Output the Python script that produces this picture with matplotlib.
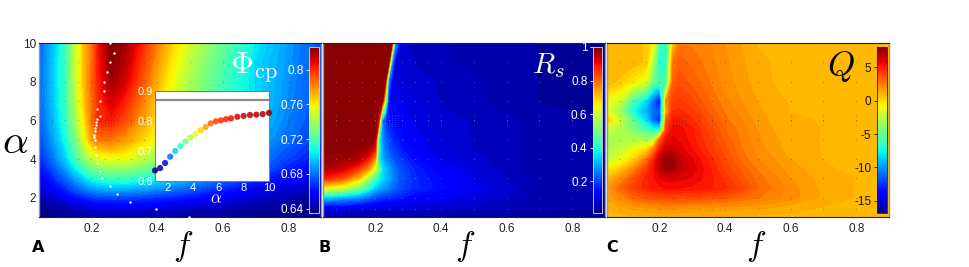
import matplotlib
matplotlib.use('Agg')
import matplotlib.pyplot as plt
from matplotlib.cm import ScalarMappable
from matplotlib.colors import Normalize
import numpy as np

plt.rcParams['font.family'] = ['Liberation Sans', 'DejaVu Sans']
plt.rcParams['mathtext.fontset'] = 'cm'

W, H = 969, 267

f_ticks = [0.2, 0.4, 0.6, 0.8]
alpha_ticks = [2, 4, 6, 8, 10]

# panel A, packing fraction
phi_f = [.04, .08, .12, .15, .18, .20, .22, .26, .30, .36, .42, .50, .60, .70, .80, .90]
phi_alpha = [1, 1.5, 2, 2.5, 3, 3.5, 4, 5, 6, 7, 8, 9, 10]
phi = [
    [.636, .636, .637, .638, .639, .640, .640, .640, .640, .640, .640, .638, .637, .636, .636, .635],
    [.638, .640, .643, .646, .649, .651, .652, .653, .653, .652, .651, .648, .645, .641, .638, .636],
    [.643, .648, .655, .661, .666, .669, .671, .672, .672, .670, .667, .662, .655, .648, .643, .639],
    [.650, .657, .667, .676, .684, .689, .692, .694, .694, .691, .686, .678, .667, .658, .650, .645],
    [.655, .665, .678, .690, .700, .707, .712, .715, .715, .710, .703, .693, .680, .668, .658, .650],
    [.660, .672, .688, .703, .718, .726, .731, .735, .735, .728, .720, .706, .690, .677, .665, .656],
    [.665, .680, .697, .715, .735, .745, .752, .756, .755, .745, .733, .715, .698, .684, .671, .660],
    [.672, .688, .707, .728, .757, .775, .785, .785, .778, .765, .750, .728, .708, .693, .679, .667],
    [.676, .692, .712, .738, .765, .785, .800, .803, .795, .775, .757, .735, .713, .697, .683, .670],
    [.678, .694, .714, .743, .770, .785, .800, .812, .803, .782, .760, .738, .715, .700, .685, .672],
    [.678, .695, .715, .746, .772, .787, .802, .820, .812, .790, .765, .740, .718, .700, .686, .672],
    [.678, .695, .715, .747, .772, .785, .803, .824, .817, .795, .770, .745, .720, .700, .687, .673],
    [.676, .694, .714, .746, .772, .785, .805, .826, .820, .800, .775, .750, .725, .703, .688, .674],
]

# white dots on panel A
ridge_f = [.258, .268, .258, .248, .238, .238, .227, .217, .227, .217, .215, .213, .212, .211, .209, .207,
           .211, .212, .213, .217, .227, .233, .258, .277, .318, .398, .497]
ridge_alpha = [10, 9.5, 9, 8.5, 8, 7.5, 7, 6.6, 6.2, 6.05, 5.93, 5.76, 5.62, 5.45, 5.24, 5.15,
               5, 4.62, 4.19, 3.8, 3.38, 3, 2.6, 2.2, 1.8, 1.4, 1]

# inset on panel A
inset_alpha = [1, 1.4, 1.8, 2.2, 2.6, 3, 3.4, 3.8, 4.2, 4.6, 5, 5.4, 5.8, 6.2, 6.6, 7, 7.5, 8, 8.5, 9, 9.5, 10]
inset_phi = [.635, .643, .66, .681, .70, .716, .731, .745, .757, .769, .78, .792, .799, .802, .806, .809,
             .814, .817, .82, .821, .823, .827]
inset_limit = 0.87

# panel B
rs_f = [.04, .10, .15, .18, .20, .21, .22, .23, .24, .25, .26, .28, .32, .40, .50, .60, .70, .90]
rs_alpha = [1, 1.5, 2, 2.5, 3, 3.5, 4, 4.5, 5, 6, 7, 8, 9, 10]
rs = [
    [.03, .03, .03, .03, .03, .03, .03, .03, .03, .03, .03, .03, .03, .03, .03, .03, .03, .03],
    [.12, .11, .10, .09, .09, .09, .09, .09, .09, .09, .09, .09, .09, .08, .07, .06, .05, .04],
    [.33, .30, .27, .23, .20, .19, .18, .17, .17, .17, .16, .15, .13, .11, .09, .07, .05, .04],
    [.65, .60, .50, .40, .33, .30, .29, .28, .26, .24, .23, .20, .17, .14, .11, .08, .05, .04],
    [.88, .83, .70, .55, .42, .38, .35, .32, .29, .27, .25, .21, .17, .13, .10, .07, .05, .04],
    [.96, .93, .85, .75, .60, .50, .36, .32, .29, .26, .24, .20, .16, .12, .09, .06, .05, .04],
    [.98, .97, .95, .88, .75, .37, .31, .27, .25, .23, .21, .18, .14, .10, .08, .06, .05, .04],
    [.99, .99, .98, .96, .88, .40, .30, .25, .22, .20, .18, .15, .12, .09, .07, .06, .05, .04],
    [1.0, 1.0, 1.0, .99, .97, .40, .28, .24, .20, .18, .16, .14, .11, .09, .07, .06, .05, .04],
    [1.0, 1.0, 1.0, 1.0, 1.0, .90, .28, .18, .15, .14, .13, .12, .10, .08, .07, .06, .05, .04],
    [1.0, 1.0, 1.0, 1.0, 1.0, 1.0, 1.0, .60, .15, .12, .11, .10, .09, .07, .06, .05, .04, .04],
    [1.0, 1.0, 1.0, 1.0, 1.0, 1.0, 1.0, .98, .25, .12, .10, .09, .08, .07, .06, .05, .04, .04],
    [1.0, 1.0, 1.0, 1.0, 1.0, 1.0, 1.0, 1.0, 1.0, .30, .10, .08, .07, .06, .05, .05, .04, .04],
    [1.0, 1.0, 1.0, 1.0, 1.0, 1.0, 1.0, 1.0, 1.0, 1.0, .30, .08, .07, .06, .05, .05, .04, .04],
]

# panel C
q_f = [.04, .08, .12, .16, .18, .20, .22, .24, .26, .30, .35, .40, .45, .50, .55, .60, .70, .80, .90]
q_alpha = [1, 1.5, 2, 2.5, 3, 3.5, 4, 4.5, 5, 5.5, 6, 6.5, 7, 8, 9, 10]
q = [
    [.8, .8, .9, .9, 1, 1, 1, 1, 1, 1, 1, 1, .9, .9, .9, .9, .9, .9, .9],
    [1.1, 1.3, 1.6, 1.8, 1.9, 2, 2, 2, 2, 1.9, 1.8, 1.7, 1.6, 1.5, 1.4, 1.2, 1, .9, .9],
    [1.5, 2.2, 3, 3.5, 3.6, 3.7, 3.8, 3.8, 3.8, 3.8, 3.6, 3.4, 3, 2.6, 2.3, 2, 1.3, 1, .9],
    [1.5, 3, 4, 4.8, 5, 5.2, 5.3, 5.3, 5.3, 5.2, 5, 4.6, 3.9, 3, 2.5, 2, 1.3, 1, .9],
    [.8, 2, 3.5, 4.8, 5.2, 5.6, 5.8, 5.9, 5.8, 5.6, 5.1, 4.4, 3.5, 2.8, 2.3, 1.8, 1.2, 1, .9],
    [-.5, .3, 2, 4.2, 5.2, 6.5, 7.3, 7.3, 6.6, 5.9, 5, 4, 3.2, 2.5, 2, 1.6, 1.1, .9, .9],
    [-2.5, -1.5, 0, 2.5, 4.5, 6.5, 7.6, 7.4, 6.5, 5.7, 4.8, 3.8, 2.8, 2.2, 1.8, 1.4, 1, .9, .9],
    [-3, -2.5, -1, 0, 2, 5, 6.3, 6.3, 5.9, 5.3, 4.4, 3.5, 2.6, 2, 1.6, 1.2, 1, .9, .9],
    [-3, -3, -3, -3, -3, 3, 5.3, 5.8, 5.6, 5.1, 4.2, 3.2, 2.5, 1.9, 1.5, 1.2, 1, .9, .9],
    [-2.5, -3, -4.5, -6, -7, -7, 4, 5.5, 5.5, 5, 4, 3, 2.4, 1.8, 1.4, 1.2, 1, .9, .9],
    [.5, -2, -5.5, -8.5, -11, -13, 3, 5, 5, 4.6, 3.6, 2.7, 2.2, 1.6, 1.3, 1.1, 1, .9, .9],
    [-1.5, -3.5, -7.5, -9.5, -11, -12, 1, 4.5, 4.6, 4.2, 3.3, 2.5, 2, 1.5, 1.2, 1, 1, .9, .9],
    [-1, -2, -6, -8.5, -11, -14, 2, 4, 4.2, 3.8, 3, 2.3, 1.8, 1.4, 1.1, 1, .9, .9, .9],
    [1, .5, -.5, -1.5, -5, -6, -6, 3, 3.6, 3.2, 2.6, 2, 1.6, 1.2, 1, .9, .9, .9, .9],
    [1, 1, 1, .5, -3, -7, -7, 2.5, 3.2, 2.8, 2.4, 1.9, 1.5, 1.1, 1, .9, .9, .9, .9],
    [1, 1, 1, .5, -.5, -6, -7, 0, 2.5, 2.5, 2.2, 1.8, 1.4, 1, 1, .9, .9, .9, .9],
]

# simulated grid points that show through the maps
grid_f = [.08, .12, .16, .20, .24, .28, .32, .36, .40, .50, .60, .70, .80]
grid_alpha = [1.4, 2, 3, 4, 5, 6, 7, 8, 9]
grid_f_fine = [.08, .20, .21, .22, .23, .24, .25, .26, .27, .28, .32, .36, .40, .50, .60, .70, .80]
grid_alpha_fine = [5.7, 5.8, 5.9, 6.0, 6.1, 6.2, 6.3]

panels = [(39, 321), (323, 605), (607, 889)]
bars = [(309, 319), (593, 602), (877, 887)]
letters = ['A', 'B', 'C']
letter_x = [32, 319, 606]
f_label_x = [183, 465, 756]


def px_axes(fig, x0, x1, y0, y1):
    return fig.add_axes([x0 / W, 1 - y1 / H, (x1 - x0) / W, (y1 - y0) / H])


def draw_map(ax, x, y, z, vmin, vmax, dot_color):
    levels = np.linspace(vmin, vmax, 65)
    ax.contourf(x, y, np.array(z), levels=levels, cmap='jet', vmin=vmin, vmax=vmax, extend='both')
    gx, gy = np.meshgrid(grid_f, grid_alpha)
    ax.scatter(gx.ravel(), gy.ravel(), s=0.4, c=dot_color, alpha=0.25, linewidths=0)
    gx, gy = np.meshgrid(grid_f_fine, grid_alpha_fine)
    ax.scatter(gx.ravel(), gy.ravel(), s=0.3, c=dot_color, alpha=0.15, linewidths=0)
    ax.set_xlim(0.04, 0.9)
    ax.set_ylim(1, 10)
    ax.set_xticks(f_ticks)
    ax.set_xticklabels(['0.2', '0.4', '0.6', '0.8'], fontsize=8.5, color='#222222')
    ax.tick_params(length=0, pad=4)
    ax.set_yticks([])
    for s in ['left', 'right']:
        ax.spines[s].set_color('#999999')
        ax.spines[s].set_linewidth(1)
    for s in ['top', 'bottom']:
        ax.spines[s].set_color('#222222')
        ax.spines[s].set_linewidth(0.8)


def draw_bar(fig, x0, x1, vmin, vmax, ticks, labels, color):
    cax = px_axes(fig, x0, x1, 47, 213)
    cb = fig.colorbar(ScalarMappable(Normalize(vmin, vmax), 'jet'), cax=cax)
    cax.yaxis.set_ticks_position('left')
    cb.set_ticks(ticks)
    cb.set_ticklabels(labels)
    cax.tick_params(axis='y', length=2, width=0.6, pad=2, labelsize=8.5, labelcolor=color, color=color)
    cb.outline.set_edgecolor('#dddddd' if color == 'white' else '#222222')
    cb.outline.set_linewidth(0.6)
    return cax


fig = plt.figure(figsize=(W / 100, H / 100), dpi=100)

ax_a = px_axes(fig, panels[0][0], panels[0][1], 43, 217)
draw_map(ax_a, phi_f, phi_alpha, phi, 0.635, 0.826, 'black')
ax_a.scatter(ridge_f, ridge_alpha, s=3, c='white', linewidths=0, zorder=3, clip_on=False)
ax_a.set_yticks(alpha_ticks)
ax_a.set_yticklabels(['2', '4', '6', '8', '10'], fontsize=8.5, color='#222222')
ax_a.tick_params(axis='y', length=0, pad=2)

ax_b = px_axes(fig, panels[1][0], panels[1][1], 43, 217)
draw_map(ax_b, rs_f, rs_alpha, rs, 0.01, 1.0, 'white')

ax_c = px_axes(fig, panels[2][0], panels[2][1], 43, 217)
draw_map(ax_c, q_f, q_alpha, q, -16.8, 8, 'black')

draw_bar(fig, bars[0][0], bars[0][1], 0.635, 0.826, [.64, .68, .72, .76, .80],
         ['0.64', '0.68', '0.72', '0.76', '0.8'], 'white')
draw_bar(fig, bars[1][0], bars[1][1], 0.01, 1.0, [.2, .4, .6, .8, 1.0],
         ['0.2', '0.4', '0.6', '0.8', '1'], 'white')
draw_bar(fig, bars[2][0], bars[2][1], -16.8, 8, [-15, -10, -5, 0, 5],
         ['-15', '-10', '-5', '0', '5'], '#111111')

# inset
ins = px_axes(fig, 155, 269, 91, 181)
ins.axhline(inset_limit, color='#888888', lw=1.6)
ins.scatter(inset_alpha, inset_phi, s=20, c=inset_phi, cmap='jet', vmin=0.635, vmax=0.83,
            alpha=0.85, linewidths=0, clip_on=False, zorder=3)
ins.set_xlim(1, 10)
ins.set_ylim(0.6, 0.9)
ins.set_xticks([2, 4, 6, 8, 10])
ins.set_yticks([.6, .7, .8, .9])
ins.set_yticklabels(['0.6', '0.7', '0.8', '0.9'])
ins.tick_params(length=0, labelsize=8, labelcolor='white', pad=1.5)
for s in ins.spines.values():
    s.set_color('#808070')
    s.set_linewidth(0.8)
fig.text(216 / W, 1 - 199 / H, r'$\alpha$', color='white', fontsize=12, ha='center', va='center')

# panel titles and labels
fig.text(254 / W, 1 - 68 / H, r'$\Phi_{\mathrm{cp}}$', color='white', fontsize=23, ha='center', va='center')
fig.text(548 / W, 1 - 66 / H, r'$R_s$', color='white', fontsize=21, ha='center', va='center')
fig.text(841 / W, 1 - 67 / H, r'$Q$', color='black', fontsize=25, ha='center', va='center')
fig.text(15 / W, 1 - 142 / H, r'$\alpha$', color='black', fontsize=29, ha='center', va='center')
for x in f_label_x:
    fig.text(x / W, 1 - 247 / H, r'$f$', color='black', fontsize=24, ha='center', va='center')
for x, name in zip(letter_x, letters):
    fig.text(x / W, 1 - 247 / H, name, color='black', fontsize=11.5, fontweight='bold',
             family=['DejaVu Sans'], ha='left', va='center')

fig.savefig('out.png', dpi=100)
